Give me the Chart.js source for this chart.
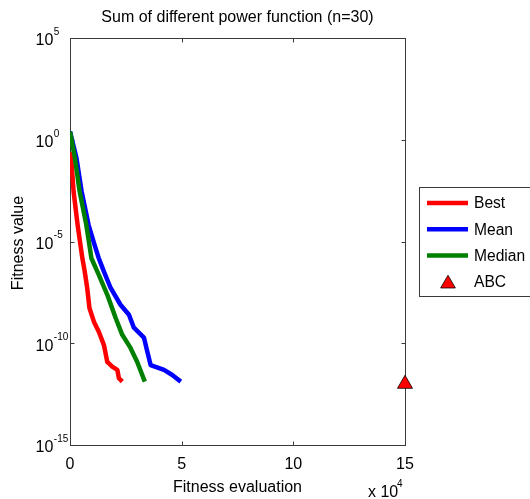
<!DOCTYPE html>
<html>
<head>
<meta charset="utf-8">
<script src="https://cdn.jsdelivr.net/npm/chart.js@4/dist/chart.umd.min.js"></script>
<style>
  html, body { margin: 0; padding: 0; background: #fff; }
  canvas { display: block; }
</style>
</head>
<body>
<canvas id="fitness-chart" width="530" height="499"></canvas>
<script>
// fitness evaluations / fitness values
var bestEval = [0, 700, 1600, 3400, 5500, 6600, 7700, 8700, 10700, 12900, 15200, 16700, 18900, 21200, 21900, 23400];
var bestFit = [2.5e-1, 7.4e-2, 2.9e-3, 6.6e-5, 1.6e-6, 3.3e-7, 5.2e-8, 5.4e-9, 1.15e-9, 3.7e-10, 8.1e-11, 1.2e-11, 7.1e-12, 4.9e-12, 1.9e-12, 1.3e-12];

var meanEval = [0, 2900, 5200, 8300, 11000, 12800, 15200, 18200, 22600, 26400, 28600, 33100, 34600, 36100, 42100, 45800, 49600];
var meanFit = [2.5, 1.26e-1, 2.9e-3, 6.6e-5, 6.9e-6, 1.6e-6, 3.3e-7, 5.2e-8, 7.8e-9, 2.5e-9, 5.8e-10, 1.9e-10, 3.9e-11, 8.5e-12, 4.9e-12, 2.75e-12, 1.3e-12];

var medianEval = [0, 2200, 4300, 7300, 9600, 12900, 16700, 20400, 23400, 27100, 30100, 33500];
var medianFit = [2.5, 1.26e-1, 2.9e-3, 6.6e-5, 1.5e-6, 2.3e-7, 2.4e-8, 1.8e-9, 2.6e-10, 5.9e-11, 1.2e-11, 1.3e-12];

var abcEval = [150000];
var abcFit = [1e-12];

var xTicks = [0, 50000, 100000, 150000];
var xTickLabels = ['0', '5', '10', '15'];
var yTicks = [1e5, 1e0, 1e-5, 1e-10, 1e-15];
var yTickExps = ['5', '0', '-5', '-10', '-15'];

var seriesNames = ['Best', 'Mean', 'Median', 'ABC'];
var seriesColors = ['rgb(255,0,0)', 'rgb(0,0,255)', 'rgb(0,128,0)', 'rgb(255,0,0)'];

var FONT = '"Liberation Sans", Arial, Helvetica, sans-serif';
var AXIS = '#3a3a3a';

var toPoints = (xs, ys) => xs.map((x, i) => ({ x: x, y: ys[i] }));

// frame + inward ticks, under the data
var framePlugin = {
    id: 'frame',
    beforeDatasetsDraw: (chart) => {
        var c = chart.ctx, a = chart.chartArea;
        var xs = chart.scales.x, ys = chart.scales.y;
        var L = Math.round(a.left) + 0.5, R = Math.round(a.right) + 0.5;
        var T = Math.round(a.top) + 0.5, B = Math.round(a.bottom) + 0.5;
        c.save();
        c.strokeStyle = AXIS;
        c.lineWidth = 1;
        c.strokeRect(L, T, R - L, B - T);
        c.beginPath();
        xTicks.forEach(v => {
            var px = Math.round(xs.getPixelForValue(v)) + 0.5;
            c.moveTo(px, B); c.lineTo(px, B - 4);
            c.moveTo(px, T); c.lineTo(px, T + 4);
        });
        yTicks.forEach(v => {
            var py = Math.round(ys.getPixelForValue(v)) + 0.5;
            c.moveTo(L, py); c.lineTo(L + 4, py);
            c.moveTo(R, py); c.lineTo(R - 4, py);
        });
        c.stroke();
        c.restore();
    }
};

// title, tick labels, axis labels and legend
var textPlugin = {
    id: 'texts',
    afterDraw: (chart) => {
        var c = chart.ctx, a = chart.chartArea;
        var xs = chart.scales.x, ys = chart.scales.y;
        var cx = (a.left + a.right) / 2;
        c.save();
        c.fillStyle = '#000';
        c.textBaseline = 'middle';

        // title
        c.font = '16px ' + FONT;
        c.textAlign = 'center';
        c.fillText('Sum of different power function (n=30)', cx, 18);

        // x tick labels
        xTicks.forEach((v, i) => {
            c.fillText(xTickLabels[i], xs.getPixelForValue(v), 465);
        });

        // x label
        c.fillText('Fitness evaluation', cx, 488);

        // x 10^4
        c.textAlign = 'left';
        c.fillText('x 10', 368, 493);
        c.font = '10px ' + FONT;
        c.fillText('4', 397, 484);

        // y tick labels 10^n
        yTicks.forEach((v, i) => {
            var py = ys.getPixelForValue(v);
            c.font = '16px ' + FONT;
            c.textAlign = 'left';
            c.fillText('10', 35.5, py + 3);
            var w = c.measureText('10').width;
            c.font = '10px ' + FONT;
            c.fillText(yTickExps[i], 35.5 + w + 0.5, py - 6);
        });

        // y label
        c.font = '16px ' + FONT;
        c.textAlign = 'center';
        c.translate(19, 243);
        c.rotate(-Math.PI / 2);
        c.fillText('Fitness value', 0, 0);
        c.setTransform(1, 0, 0, 1, 0, 0);

        // legend
        c.fillStyle = '#fff';
        c.fillRect(419.5, 187.5, 120, 109);
        c.strokeStyle = AXIS;
        c.lineWidth = 1;
        c.strokeRect(419.5, 187.5, 120, 109);
        var rowY = [203, 229.2, 255.4, 281.6];
        seriesNames.forEach((name, i) => {
            var y = rowY[i];
            if (i < 3) {
                c.strokeStyle = seriesColors[i];
                c.lineWidth = 4.5;
                c.beginPath();
                c.moveTo(427, y); c.lineTo(468, y);
                c.stroke();
            } else {
                var r = 8.5;
                c.beginPath();
                c.moveTo(448, y - r * 0.75);
                c.lineTo(448 + r * 0.866, y + r * 0.75);
                c.lineTo(448 - r * 0.866, y + r * 0.75);
                c.closePath();
                c.fillStyle = seriesColors[i];
                c.fill();
                c.strokeStyle = '#000';
                c.lineWidth = 0.8;
                c.stroke();
            }
            c.fillStyle = '#000';
            c.font = '15.6px ' + FONT;
            c.textAlign = 'left';
            c.fillText(name, 474, y + 1);
        });
        c.restore();
    }
};

var lineSet = (label, xs, ys, color, order) => ({
    label: label,
    data: toPoints(xs, ys),
    borderColor: color,
    backgroundColor: color,
    borderWidth: 4.5,
    pointRadius: 0,
    tension: 0,
    fill: false,
    borderJoinStyle: 'round',
    order: order
});

var ctx = document.getElementById('fitness-chart').getContext('2d');
var chart = new Chart(ctx, {
    type: 'line',
    data: {
        datasets: [
            lineSet(seriesNames[0], bestEval, bestFit, seriesColors[0], 3),
            lineSet(seriesNames[1], meanEval, meanFit, seriesColors[1], 2),
            lineSet(seriesNames[2], medianEval, medianFit, seriesColors[2], 1),
            {
                label: seriesNames[3],
                data: toPoints(abcEval, abcFit),
                showLine: false,
                pointStyle: 'triangle',
                pointRadius: 8.7,
                backgroundColor: seriesColors[3],
                borderColor: '#000',
                borderWidth: 0.8,
                clip: false,
                order: 0
            }
        ]
    },
    options: {
        responsive: false,
        animation: false,
        devicePixelRatio: 1,
        layout: { padding: { left: 70, right: 125, top: 38, bottom: 54 } },
        plugins: {
            legend: { display: false },
            tooltip: { enabled: false },
            title: { display: false }
        },
        scales: {
            x: { type: 'linear', min: 0, max: 150000, display: false },
            y: { type: 'logarithmic', min: 1e-15, max: 1e5, display: false }
        }
    },
    plugins: [framePlugin, textPlugin]
});
</script>
</body>
</html>
